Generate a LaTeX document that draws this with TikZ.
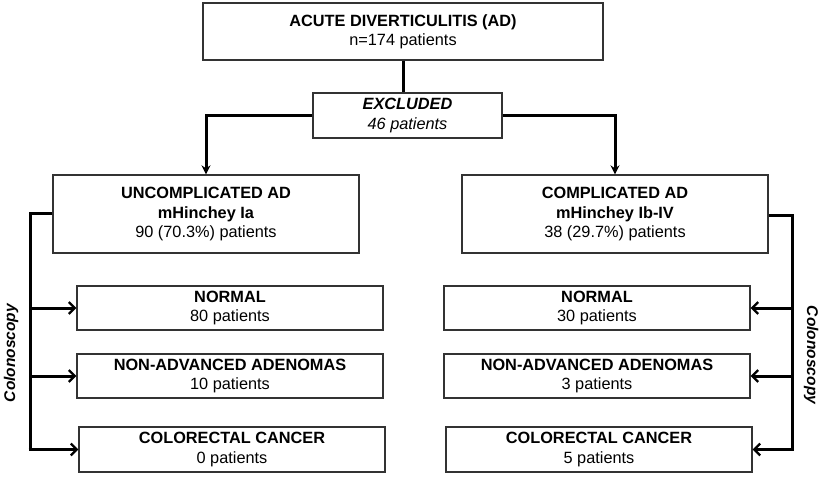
\documentclass[tikz,border=0pt]{standalone}
\usepackage{fontspec}
\setmainfont{Liberation Sans}
\usetikzlibrary{arrows.meta}
\begin{document}
\begin{tikzpicture}[x=1pt,y=-1pt,
  box/.style={draw=black!80,line width=1.3pt,fill=white,inner sep=0pt,align=center,
    font=\fontsize{16.3}{19.3}\selectfont,minimum width=306pt},
  conn/.style={line width=3pt,line cap=butt},
  downarrow/.style={conn,-{Stealth[length=9pt,width=9pt]}},
  sidearrow/.style={conn,-{Straight Barb[length=6pt,width=12pt,line width=2.2pt]}},
  lbl/.style={font=\fontsize{15.5}{19}\selectfont\bfseries\itshape}
]
\useasboundingbox (0,0) rectangle (821,477);
\node[box,minimum width=400pt,minimum height=57pt] (top) at (403,31.5)
  {\textbf{ACUTE DIVERTICULITIS (AD)}\\n=174 patients};
\node[box,minimum width=189pt,minimum height=45pt] (excl) at (407.5,115.5)
  {\textbf{\textit{EXCLUDED}}\\\textit{46 patients}};
\node[box,minimum height=78pt] (unc) at (206,214)
  {\textbf{UNCOMPLICATED AD}\\\textbf{mHinchey Ia}\\90 (70.3\%) patients};
\node[box,minimum height=78pt] (comp) at (615,214)
  {\textbf{COMPLICATED AD}\\\textbf{mHinchey Ib-IV}\\38 (29.7\%) patients};
\node[box,minimum height=44pt] (ln) at (230,308) {\textbf{NORMAL}\\80 patients};
\node[box,minimum height=44pt] (la) at (230,376) {\textbf{NON-ADVANCED ADENOMAS}\\10 patients};
\node[box,minimum height=45pt] (lc) at (232,449.5) {\textbf{COLORECTAL CANCER}\\0 patients};
\node[box,minimum height=44pt] (rn) at (597,308) {\textbf{NORMAL}\\30 patients};
\node[box,minimum height=44pt] (ra) at (597,376) {\textbf{NON-ADVANCED ADENOMAS}\\3 patients};
\node[box,minimum height=45pt] (rc) at (599,449.5) {\textbf{COLORECTAL CANCER}\\5 patients};
% top connectors
\draw[conn] (top.south) -- (top.south |- excl.north);
\draw[downarrow] (excl.west) -| (unc.north);
\draw[downarrow] (excl.east) -| (comp.north);
% left colonoscopy
\coordinate (lv) at (30,213);
\draw[conn] (unc.west |- lv) -- (lv) -- (30,449.5);
\draw[sidearrow] (lv |- ln.west) -- (ln.west);
\draw[sidearrow] (lv |- la.west) -- (la.west);
\draw[sidearrow] (28.5,449.5) -- (lc.west);
% right colonoscopy
\coordinate (rv) at (792,215);
\draw[conn] (comp.east |- rv) -- (rv) -- (792,449.5);
\draw[sidearrow] (rv |- rn.east) -- (rn.east);
\draw[sidearrow] (rv |- ra.east) -- (ra.east);
\draw[sidearrow] (793.5,449.5) -- (rc.east);
\node[lbl,rotate=90] (lcol) at (11,353) {Colonoscopy};
\node[lbl,rotate=-90] (rcol) at (811,355) {Colonoscopy};
\end{tikzpicture}
\end{document}
